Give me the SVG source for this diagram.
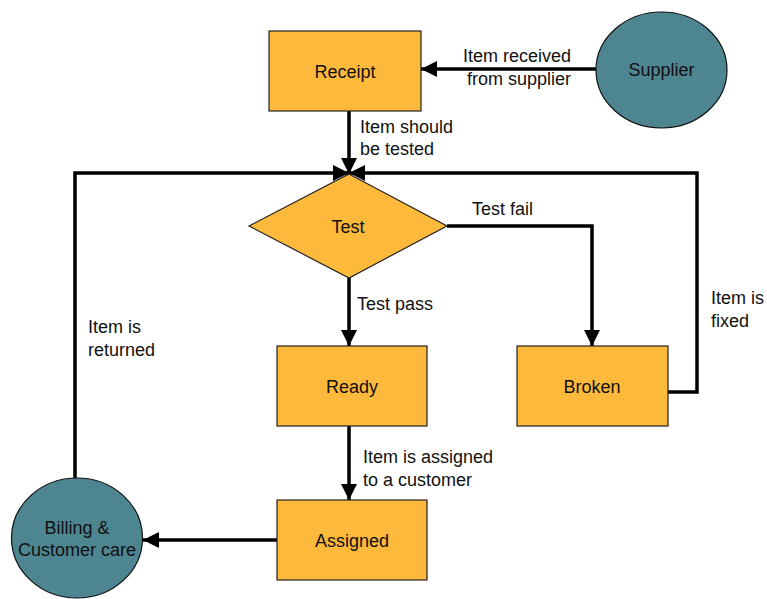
<svg xmlns="http://www.w3.org/2000/svg" width="767" height="599" viewBox="0 0 767 599">
<style>
.box{fill:#FDB93C;stroke:#222;stroke-width:1.2}
.ell{fill:#4D8590;stroke:#111;stroke-width:1.2}
.lbl{font-family:"Liberation Sans",Arial,sans-serif;font-size:18px;fill:#111}
.c{text-anchor:middle}
.edge{fill:none;stroke:#000;stroke-width:3.5}
</style>
<defs>
<marker id="arr" markerUnits="userSpaceOnUse" markerWidth="16" markerHeight="16" refX="16" refY="8" orient="auto" viewBox="0 0 16 16">
<path d="M0,0 L16,8 L0,16 z" fill="#000"/>
</marker>
</defs>
<rect width="767" height="599" fill="#fff"/>
<g id="connectors">
<path class="edge" d="M596,69 L421,69" marker-end="url(#arr)"/>
<path class="edge" d="M349,111 L349,174" marker-end="url(#arr)"/>
<path class="edge" d="M75,478 L75,173 L349,173" marker-end="url(#arr)"/>
<path class="edge" d="M668,392 L697,392 L697,173 L349,173" marker-end="url(#arr)"/>
<path class="edge" d="M447,226 L592,226 L592,346" marker-end="url(#arr)"/>
<path class="edge" d="M349,278 L349,346" marker-end="url(#arr)"/>
<path class="edge" d="M349,426 L349,500" marker-end="url(#arr)"/>
<path class="edge" d="M277,540 L143,540" marker-end="url(#arr)"/>
<text class="lbl c" x="517" y="62">Item received</text>
<text class="lbl c" x="519" y="85">from supplier</text>
<text class="lbl" x="360" y="133">Item should</text>
<text class="lbl" x="360" y="155">be tested</text>
<text class="lbl" x="472" y="215">Test fail</text>
<text class="lbl" x="357" y="310">Test pass</text>
<text class="lbl" x="711" y="304">Item is</text>
<text class="lbl" x="711" y="327">fixed</text>
<text class="lbl" x="88" y="333">Item is</text>
<text class="lbl" x="88" y="356">returned</text>
<text class="lbl" x="363" y="463">Item is assigned</text>
<text class="lbl" x="363" y="486">to a customer</text>
</g>
<g id="receipt">
<rect class="box" x="269" y="31" width="152" height="80"/>
<text class="lbl c" x="345" y="78">Receipt</text>
</g>
<g id="supplier">
<ellipse class="ell" cx="661.5" cy="70" rx="65.5" ry="58"/>
<text class="lbl c" x="661.5" y="76">Supplier</text>
</g>
<g id="test">
<polygon class="box" points="349,174 447,226 349,278 249,226"/>
<text class="lbl c" x="348" y="233">Test</text>
</g>
<g id="ready">
<rect class="box" x="277" y="346" width="150" height="80"/>
<text class="lbl c" x="352" y="393">Ready</text>
</g>
<g id="broken">
<rect class="box" x="517" y="346" width="151" height="80"/>
<text class="lbl c" x="592" y="393">Broken</text>
</g>
<g id="assigned">
<rect class="box" x="277" y="500" width="150" height="80"/>
<text class="lbl c" x="352" y="547">Assigned</text>
</g>
<g id="billing">
<ellipse class="ell" cx="77" cy="538" rx="65.5" ry="60"/>
<text class="lbl c" x="77" y="534">Billing &amp;</text>
<text class="lbl c" x="77" y="556">Customer care</text>
</g>
</svg>
